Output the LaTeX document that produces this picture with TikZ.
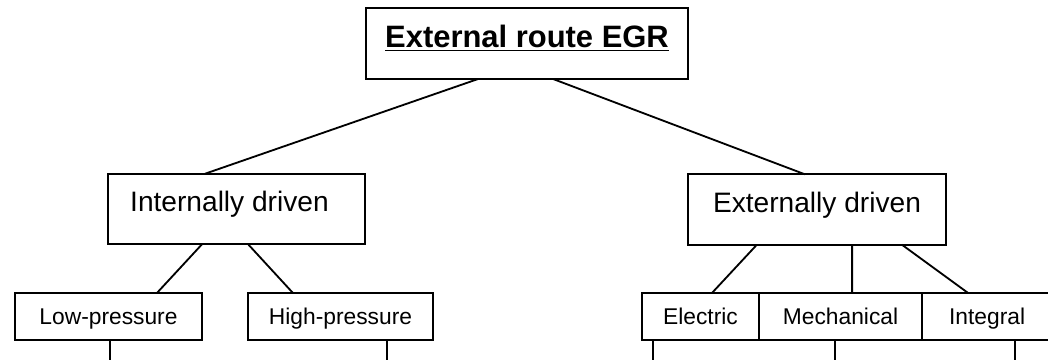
\documentclass[tikz,border=0pt]{standalone}
\usepackage{fontspec}
\setmainfont{Liberation Sans}
\usetikzlibrary{positioning,calc}

\begin{document}
\begin{tikzpicture}[
  x=0.025cm, y=-0.025cm,
  line width=1.3pt,
  box/.style={rectangle,draw,inner sep=0pt,outer sep=0pt,align=center},
  rootbox/.style={box,minimum width=8.05cm,minimum height=1.775cm,font=\fontsize{22}{26}\selectfont\bfseries,text height=16pt,text depth=10.25pt},
  drivebox/.style={box,minimum width=6.45cm,minimum height=1.76cm,font=\fontsize{20}{24}\selectfont,text height=14pt,text depth=10pt},
  typebox/.style={box,minimum height=1.175cm,font=\fontsize{16.2}{19}\selectfont,text height=11.6pt,text depth=0pt}
]
\clip (0,0) rectangle (1048,360);
\node[rootbox] (root) at (527,43.5) {\underline{External route EGR}};
\node[drivebox,minimum width=6.425cm] (intl) at (236.5,209) {Internally driven\hspace*{10pt}};
\node[drivebox] (extl) at (817,209.5) {Externally driven};
\node[typebox,minimum width=4.675cm] (lowp) at (108.5,316.5) {Low-pressure};
\node[typebox,minimum width=4.625cm] (highp) at (340.5,316.5) {High-pressure};
\node[typebox,minimum width=2.925cm] (elec) at (700.5,316.5) {Electric};
\node[typebox,minimum width=4.075cm,right=0pt of elec] (mech) {Mechanical};
\node[typebox,minimum width=3.25cm,right=0pt of mech] (integ) {Integral};
\draw ($(root.south west)!.348!(root.south east)$) -- ($(intl.north west)!.377!(intl.north east)$);
\draw ($(root.south west)!.581!(root.south east)$) -- ($(extl.north west)!.453!(extl.north east)$);
\draw ($(intl.south west)!.366!(intl.south east)$) -- ($(lowp.north west)!.759!(lowp.north east)$);
\draw ($(intl.south west)!.545!(intl.south east)$) -- ($(highp.north west)!.243!(highp.north east)$);
\draw ($(extl.south west)!.267!(extl.south east)$) -- ($(elec.north west)!.598!(elec.north east)$);
\draw ($(extl.south west)!.636!(extl.south east)$) -- ($(mech.north west)!.571!(mech.north east)$);
\draw ($(extl.south west)!.829!(extl.south east)$) -- ($(integ.north west)!.354!(integ.north east)$);
% legs running off the bottom edge
\coordinate (foot) at (0,370);
\foreach \n/\f in {lowp/.508,highp/.751,elec/.094,mech/.466,integ/.715}{
  \coordinate (leg) at ($(\n.south west)!\f!(\n.south east)$);
  \draw (leg) -- (leg |- foot);
}
\end{tikzpicture}
\end{document}
